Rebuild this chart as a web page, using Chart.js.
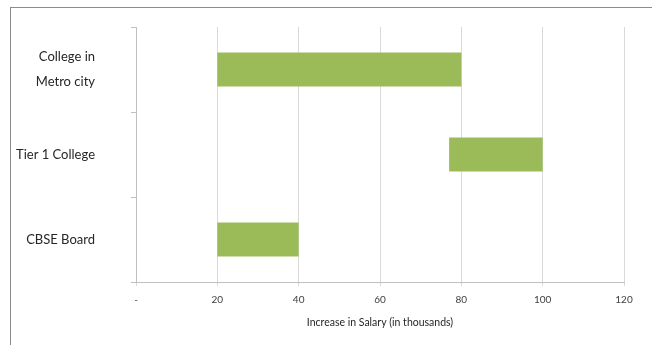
<!DOCTYPE html>
<html>
<head>
<meta charset="utf-8">
<script src="https://cdn.jsdelivr.net/npm/chart.js@4.4.0/dist/chart.umd.min.js"></script>
<style>
  html, body { margin: 0; padding: 0; background: #fff; }
  body { width: 652px; height: 345px; position: relative; overflow: hidden; }
  .frame { position: absolute; left: 10px; top: 7px; width: 700px; height: 400px;
           border-left: 1px solid #8c8c8c; border-top: 1px solid #8c8c8c; }
  .wrap { position: absolute; left: 0; top: 0; width: 652px; height: 345px; }
</style>
</head>
<body>
<div class="frame"></div>
<div class="wrap"><canvas id="chart"></canvas></div>
<script>
const categories = [["College in", "Metro city"], "Tier 1 College", "CBSE Board"]
const salaryFrom = [20, 77, 20]
const salaryTo = [80, 100, 40]
const xTicks = [0, 20, 40, 60, 80, 100, 120]

const ranges = salaryFrom.map((v, i) => [v, salaryTo[i]])

new Chart(document.getElementById("chart"), {
  type: 'bar',
  data: {
    labels: categories,
    datasets: [{
      data: ranges,
      backgroundColor: '#9bbb59',
      borderWidth: 0,
      barPercentage: 0.4,
      categoryPercentage: 1.0,
    }]
  },
  options: {
    indexAxis: 'y',
    responsive: true,
    maintainAspectRatio: false,
    animation: false,
    layout: { padding: { top: 27, right: 28, left: 0, bottom: 0 } },
    plugins: {
      legend: { display: false },
      tooltip: { enabled: false },
    },
    scales: {
      x: {
        min: 0,
        max: 120,
        afterFit: (s) => { s.height = 63; s.paddingLeft = 0; s.paddingRight = 0 },
        afterBuildTicks: (s) => { s.ticks = xTicks.map(v => ({ value: v })) },
        grid: { color: '#d9d9d9', tickLength: 4, drawTicks: true },
        border: { color: '#bfbfbf' },
        ticks: {
          padding: 8,
          color: '#404040',
          font: { family: 'Lato', size: 10 },
          callback: (v) => v === 0 ? '-' : v,
        },
        title: {
          display: true,
          text: 'Increase in Salary (in thousands)',
          color: '#262626',
          font: { family: 'Lato', size: 10.5 },
          padding: { top: 0, bottom: 16 },
        },
      },
      y: {
        afterFit: (s) => { s.width = 136; s.paddingTop = 0; s.paddingBottom = 0 },
        grid: { offset: true, drawOnChartArea: false, tickLength: 5, color: '#bfbfbf' },
        border: { color: '#bfbfbf' },
        ticks: {
          padding: 36,
          color: '#262626',
          font: { family: 'Lato', size: 13, lineHeight: 1.9 },
        },
      },
    },
  },
})
</script>
</body>
</html>
